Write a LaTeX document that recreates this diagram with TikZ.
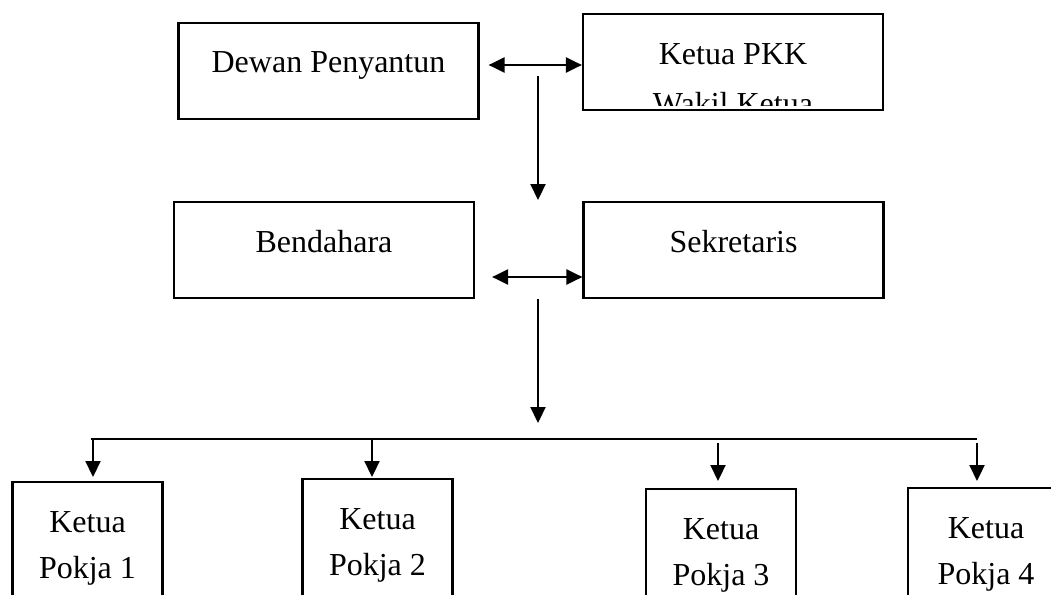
\documentclass[tikz,border=0pt]{standalone}
\usepackage{fontspec}
\setmainfont{Liberation Serif}
\usetikzlibrary{arrows.meta}

\begin{document}
\begin{tikzpicture}[x=1pt, y=-1pt, line width=2.2pt,
        font=\fontsize{32}{46}\selectfont,
        box/.style={draw, minimum width=300pt, minimum height=96pt, inner sep=0pt, text height=20pt, text depth=16pt},
        pokja/.style={draw, minimum width=150pt, minimum height=150pt, inner sep=0pt, anchor=north, align=center, text height=60pt, text depth=18pt},
        arr/.style={-{Triangle[length=16pt, width=15pt]}},
        dblarr/.style={{Triangle[length=16pt, width=15pt]}-{Triangle[length=16pt, width=15pt]}}]
        \clip (0,0) rectangle (1051,594);
        \node[box] (dewan) at (328.5,71) {Dewan Penyantun};
        \node[box] (ketua) at (733,62) {Ketua PKK};
        \node[box] (bendahara) at (324,250) {Bendahara};
        \node[box] (sekretaris) at (733.5,250) {Sekretaris};
        \begin{scope}
            \clip (ketua.north west) rectangle ([yshift=6pt]ketua.south east);
            \node[anchor=base] (wakil) at ([yshift=-52pt]ketua.center) {Wakil Ketua};
        \end{scope}
        \node[pokja] (pokja1) at (87.5,481) {Ketua\\Pokja 1};
        \node[pokja] (pokja2) at (377.5,478) {Ketua\\Pokja 2};
        \node[pokja] (pokja3) at (721,488) {Ketua\\Pokja 3};
        \node[pokja, minimum width=156pt] (pokja4) at (986,487) {Ketua\\Pokja 4};
        \coordinate (d1) at (538,76);
        \coordinate (d2) at (538,200);
        \coordinate (s1) at (538,299);
        \coordinate (s2) at (538,423);
        \coordinate (barL) at (91,439);
        \coordinate (barR) at (977,439);
        \draw[dblarr] ([xshift=9pt,yshift=6pt]dewan.east) -- ([yshift=6pt]dewan.east -| ketua.west);
        \draw[arr] (d1) -- (d2);
        \draw[dblarr] ([xshift=17pt,yshift=-27pt]bendahara.east) -- ([yshift=-27pt]bendahara.east -| sekretaris.west);
        \draw[arr] (s1) -- (s2);
        \draw (barL) -- (barR);
        \foreach \n/\dx/\gap/\tip in {1/5.5/0/4, 2/-5.5/0/1, 3/-3/4/7, 4/-9/4/6}
            \draw[arr] ([xshift=\dx pt,yshift=-\gap pt]pokja\n.north |- barL) -- ([xshift=\dx pt,yshift=\tip pt]pokja\n.north);
\end{tikzpicture}
\end{document}
